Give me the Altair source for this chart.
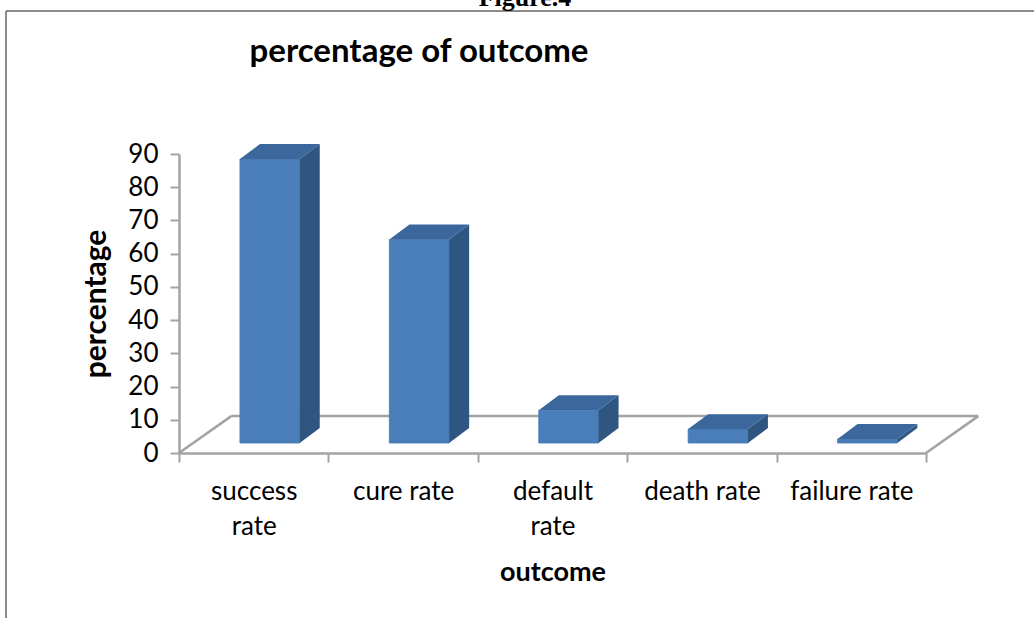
import altair as alt
import pandas as pd

# ---- data ----
categories = ["success rate", "cure rate", "default rate", "death rate", "failure rate"]
label_lines = [["success", "rate"], ["cure rate"], ["default", "rate"], ["death rate"], ["failure rate"]]
values = [85.5, 61.3, 9.9, 4.2, 1.2]
y_ticks = [0, 10, 20, 30, 40, 50, 60, 70, 80, 90]

FONT = "Lato"
GREY = "#A3A3A3"
FRONT = "#4A7EBB"
SIDE = "#2F5581"
TOP = "#3C679C"

# oblique-projection parameters (in scale units)
FLOOR_DX, FLOOR_DY = 0.35, 11.1
BAR_W = 0.4
BAR_SHIFT_X, BAR_SHIFT_Y = 0.108, 3.0
BAR_DX, BAR_DY = 0.134, 4.5

n = len(categories)
xs = alt.Scale(domain=[0, n], nice=False, zero=False)
ys = alt.Scale(domain=[0, 90], nice=False)

front_rows, side_rows, top_rows = [], [], []
for i, (c, v) in enumerate(zip(categories, values)):
    x1 = i + 0.5 + BAR_SHIFT_X - BAR_W / 2
    x2 = x1 + BAR_W
    b = BAR_SHIFT_Y
    front_rows.append({"cat": c, "x1": x1, "x2": x2, "y1": b, "y2": b + v})
    side_rows += [
        {"cat": c, "x": x2, "lo": b, "hi": b + v},
        {"cat": c, "x": x2 + BAR_DX, "lo": b + BAR_DY, "hi": b + BAR_DY + v},
    ]
    top_rows += [
        {"cat": c, "y": b + v, "xl": x1, "xr": x2},
        {"cat": c, "y": b + v + BAR_DY, "xl": x1 + BAR_DX, "xr": x2 + BAR_DX},
    ]
front_df = pd.DataFrame(front_rows)
side_df = pd.DataFrame(side_rows)
top_df = pd.DataFrame(top_rows)

floor_df = pd.DataFrame([
    {"x": 0, "y": 0, "x2": FLOOR_DX, "y2": FLOOR_DY},
    {"x": FLOOR_DX, "y": FLOOR_DY, "x2": n + FLOOR_DX, "y2": FLOOR_DY},
    {"x": n, "y": 0, "x2": n + FLOOR_DX, "y2": FLOOR_DY},
])


def js_arr(lines):
    return "[" + ",".join("'" + s + "'" for s in lines) + "]"


expr = "''"
for i in reversed(range(n)):
    expr = f"datum.value == {i + 0.5} ? {js_arr(label_lines[i])} : ({expr})"

x_values = [k / 2 for k in range(2 * n + 1)]

x_axis = alt.Axis(
    values=x_values,
    labelExpr=expr,
    grid=False,
    domainColor=GREY,
    domainWidth=2.5,
    tickColor=GREY,
    tickWidth=2,
    tickSize=9,
    tickOpacity={"condition": {"test": "datum.value % 1 != 0", "value": 0}, "value": 1},
    labelFont=FONT,
    labelFontSize=26,
    labelColor="black",
    labelBaseline="top",
    labelPadding=16,
    labelLineHeight=35,
    labelOverlap=False,
    labelFlush=False,
    labelBound=False,
    title="outcome",
    titleFont=FONT,
    titleFontSize=27,
    titleFontWeight="bold",
    titleColor="black",
    titleBaseline="middle",
    titleY=119,
)

y_axis = alt.Axis(
    values=y_ticks,
    grid=False,
    domainColor=GREY,
    domainWidth=2.5,
    tickColor=GREY,
    tickWidth=2,
    tickSize=9,
    labelFont=FONT,
    labelFontSize=26,
    labelColor="black",
    labelPadding=12,
    labelOverlap=False,
    labelFlush=False,
    title="percentage",
    titleFont=FONT,
    titleFontSize=30,
    titleFontWeight="bold",
    titleColor="black",
    titleAngle=270,
    titleAlign="center",
    titleBaseline="middle",
    titleX=-83,
    titleY=149.5,
)

floor = alt.Chart(floor_df).mark_rule(color=GREY, strokeWidth=2.5).encode(
    x=alt.X("x:Q", scale=xs, axis=x_axis),
    y=alt.Y("y:Q", scale=ys, axis=y_axis),
    x2="x2:Q",
    y2="y2:Q",
)

front = alt.Chart(front_df).mark_rect(color=FRONT, stroke="#4577B2", strokeWidth=0.8).encode(
    x=alt.X("x1:Q", scale=xs, axis=x_axis),
    x2="x2:Q",
    y=alt.Y("y1:Q", scale=ys, axis=y_axis),
    y2="y2:Q",
)

side = alt.Chart(side_df).mark_area(orient="vertical", color=SIDE, interpolate="linear").encode(
    x=alt.X("x:Q", scale=xs, axis=x_axis),
    y=alt.Y("lo:Q", scale=ys, axis=y_axis),
    y2="hi:Q",
    detail="cat:N",
)

top = alt.Chart(top_df).mark_area(orient="horizontal", color=TOP, interpolate="linear").encode(
    y=alt.Y("y:Q", scale=ys, axis=y_axis),
    x=alt.X("xl:Q", scale=xs, axis=x_axis),
    x2="xr:Q",
    detail="cat:N",
)

one = pd.DataFrame({"k": [0]})
border_top = alt.Chart(one).mark_rule(color="#8C8C8C", strokeWidth=2).encode(
    x=alt.value(-173), x2=alt.value(860), y=alt.value(-143)
)
border_left = alt.Chart(one).mark_rule(color="#8C8C8C", strokeWidth=2).encode(
    x=alt.value(-173), y=alt.value(-143), y2=alt.value(470)
)
fig_label = alt.Chart(one).mark_text(
    font="Liberation Serif", fontWeight="bold", fontSize=26, baseline="alphabetic", align="center"
).encode(x=alt.value(346), y=alt.value(-148), text=alt.value("Figure.4"))

title_text = alt.Chart(one).mark_text(
    font=FONT, fontWeight="bold", fontSize=33, baseline="middle", align="center", color="black"
).encode(x=alt.value(240), y=alt.value(-102), text=alt.value("percentage of outcome"))

chart = (
    alt.layer(border_top, border_left, fig_label, title_text, floor, front, side, top)
    .properties(
        width=747,
        height=299,
        autosize=alt.AutoSizeParams(type="none"),
        padding={"left": 179, "top": 154, "right": 108, "bottom": 165},
        background="white",
    )
    .configure_view(stroke=None)
)

chart.save("out.html", embed_options={"renderer": "svg", "actions": False})
